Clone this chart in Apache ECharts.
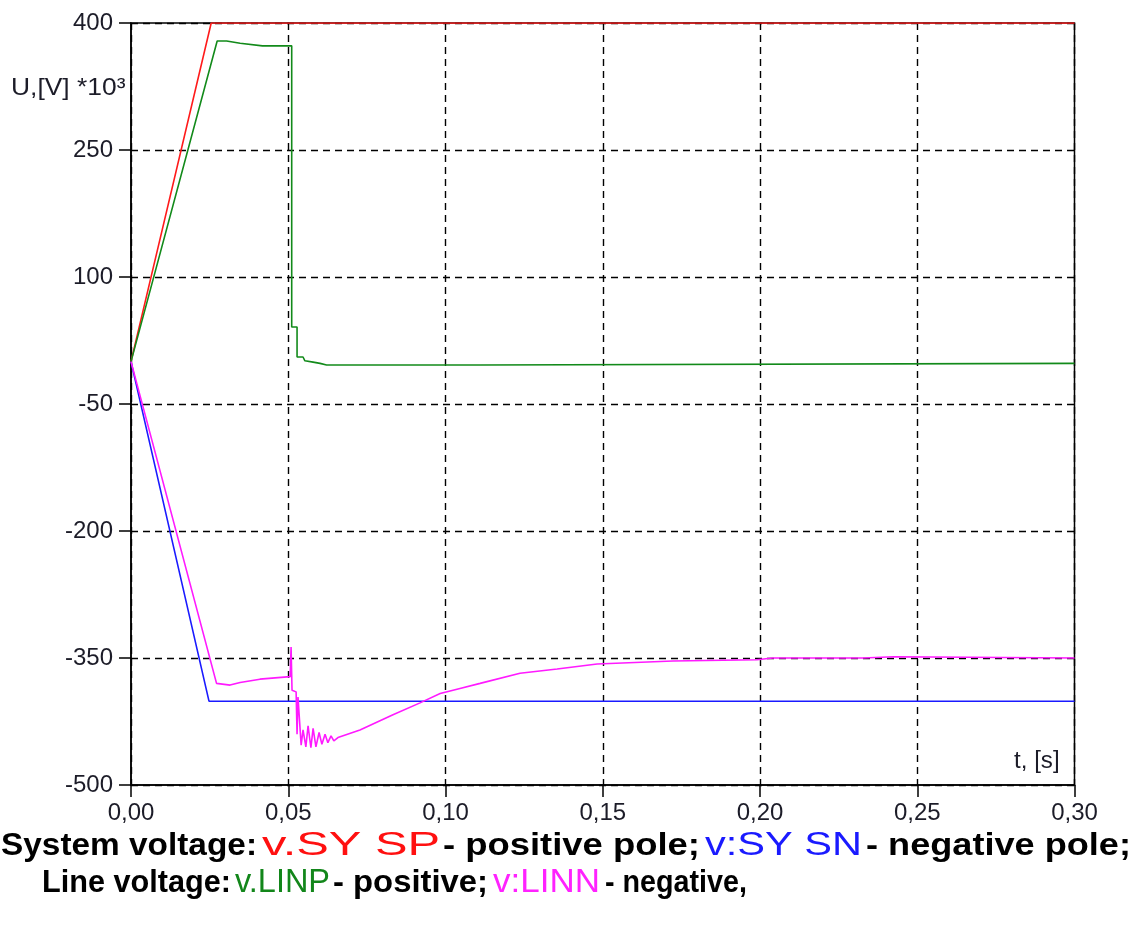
<!DOCTYPE html>
<html>
<head>
<meta charset="utf-8">
<script src="https://cdn.jsdelivr.net/npm/echarts@6/dist/echarts.min.js"></script>
<style>
html, body { margin: 0; padding: 0; background: #fff; }
#chart { width: 1138px; height: 934px; }
</style>
</head>
<body>
<div id="chart"></div>
<script>
// time axis ticks [s] and voltage ticks [kV]
var timeTicks = [0, 0.05, 0.10, 0.15, 0.20, 0.25, 0.30]
var voltTicks = [-500, -350, -200, -50, 100, 250, 400]

// v.SY SP - system, positive pole
var sysPos = [[0, 0], [0.0255, 400], [0.30, 400]]
// v:SY SN - system, negative pole
var sysNeg = [[0, 0], [0.0248, -401], [0.30, -401]]
// v.LINP - line, positive
var linePos = [
	[0, 0], [0.0274, 378.7], [0.0304, 378.7], [0.0347, 376], [0.0418, 373], [0.0511, 373],
	[0.0511, 41], [0.0528, 41], [0.0528, 5.5], [0.0547, 5.5], [0.0553, 1], [0.0579, -0.5],
	[0.0601, -2], [0.0622, -4], [0.111, -4], [0.111, -2], [0.30, -2]
]
// v:LINN - line, negative
var lineNeg = [
	[0, 0], [0.0272, -380], [0.0315, -382], [0.0347, -379], [0.041, -375], [0.0506, -372],
	[0.0509, -337], [0.0512, -388], [0.0525, -390], [0.0528, -440], [0.0531, -396],
	[0.0541, -453], [0.0547, -435], [0.0556, -455], [0.0563, -430], [0.0572, -456],
	[0.0579, -433], [0.0588, -455], [0.0598, -438], [0.0607, -452], [0.0617, -440],
	[0.0626, -450], [0.0636, -442], [0.0645, -448], [0.0658, -444], [0.0728, -435],
	[0.0833, -417], [0.0919, -403], [0.0983, -392], [0.1046, -386], [0.111, -380],
	[0.1237, -368], [0.1355, -363], [0.1482, -357], [0.1723, -353.5], [0.199, -352],
	[0.204, -350], [0.2328, -350], [0.2328, -348.5], [0.2426, -348.5], [0.2426, -350], [0.30, -350]
]

var chart = echarts.init(document.getElementById('chart'))

function line(name, data, color) {
	return {
		name: name,
		type: 'line',
		data: data,
		symbol: 'none',
		lineStyle: { color: color, width: 1.6 },
		z: 3
	}
}

// caption under the chart: each piece squeezed/stretched to its span
var ctx = document.createElement('canvas').getContext('2d')
var BOLD = 'bold 32px "Liberation Sans", Arial, sans-serif'
var THIN = '34px "Liberation Sans", Arial, sans-serif'
function seg(text, font, color, x0, x1, yc) {
	ctx.font = font
	var w = ctx.measureText(text).width
	return {
		type: 'text', x: x0, y: yc, scaleX: (x1 - x0) / w, z: 10,
		style: { text: text, font: font, fill: color, verticalAlign: 'middle', align: 'left' }
	}
}

var labelFont = { fontFamily: 'Liberation Sans', fontSize: 24, color: '#1c1c28' }
var dash = { color: '#000', width: 1.4, type: [7, 5] }

var option = {
	animation: false,
	backgroundColor: '#fff',
	grid: {
		left: 131, top: 23, right: 63.5, bottom: 149,
		show: true, borderColor: '#000', borderWidth: 1.5, backgroundColor: 'transparent'
	},
	xAxis: {
		type: 'value',
		min: timeTicks[0],
		max: timeTicks[timeTicks.length - 1],
		interval: 0.05,
		axisLine: { onZero: false, lineStyle: { color: '#000', width: 1.5 } },
		axisTick: { show: true, length: 12, lineStyle: { color: '#000', width: 1.5 } },
		splitLine: { show: true, lineStyle: dash },
		axisLabel: Object.assign({
			margin: 16,
			formatter: function (v) { return v.toFixed(2).replace('.', ',') }
		}, labelFont)
	},
	yAxis: {
		type: 'value',
		min: voltTicks[0],
		max: voltTicks[voltTicks.length - 1],
		interval: 150,
		axisLine: { show: true, onZero: false, lineStyle: { color: '#000', width: 1.5 } },
		axisTick: { show: true, length: 12, lineStyle: { color: '#000', width: 1.5 } },
		splitLine: { show: true, lineStyle: dash },
		axisLabel: Object.assign({ margin: 18 }, labelFont)
	},
	graphic: [
		{
			type: 'text', x: 11, y: 88, scaleX: 1.1,
			style: { text: 'U,[V] *10³', font: '24px "Liberation Sans", Arial, sans-serif', fill: '#1c1c28', verticalAlign: 'middle' }
		},
		{
			type: 'text', x: 1014, y: 762, scaleX: 1.05,
			style: { text: 't, [s]', font: '23px "Liberation Sans", Arial, sans-serif', fill: '#1c1c28', verticalAlign: 'middle' }
		},
		seg('System voltage:', BOLD, '#000', 1, 257, 846),
		seg('v.SY SP', THIN, '#ff1010', 262, 440, 846),
		seg('- positive pole;', BOLD, '#000', 443, 700, 846),
		seg('v:SY SN', THIN, '#1a1aff', 705, 862, 846),
		seg('- negative pole;', BOLD, '#000', 866, 1131, 846),
		seg('Line voltage:', BOLD, '#000', 42, 231, 883),
		seg('v.LINP', THIN, '#12861a', 235, 330, 883),
		seg('- positive;', BOLD, '#000', 333, 488, 883),
		seg('v:LINN', THIN, '#ff22ff', 493, 600, 883),
		seg('- negative,', BOLD, '#000', 605, 747, 883)
	],
	series: [
		line('v.SY SP', sysPos, '#ff1a1a'),
		line('v:SY SN', sysNeg, '#1a1aff'),
		line('v.LINP', linePos, '#128a1a'),
		line('v:LINN', lineNeg, '#ff1aff')
	]
}

chart.setOption(option)
</script>
</body>
</html>
